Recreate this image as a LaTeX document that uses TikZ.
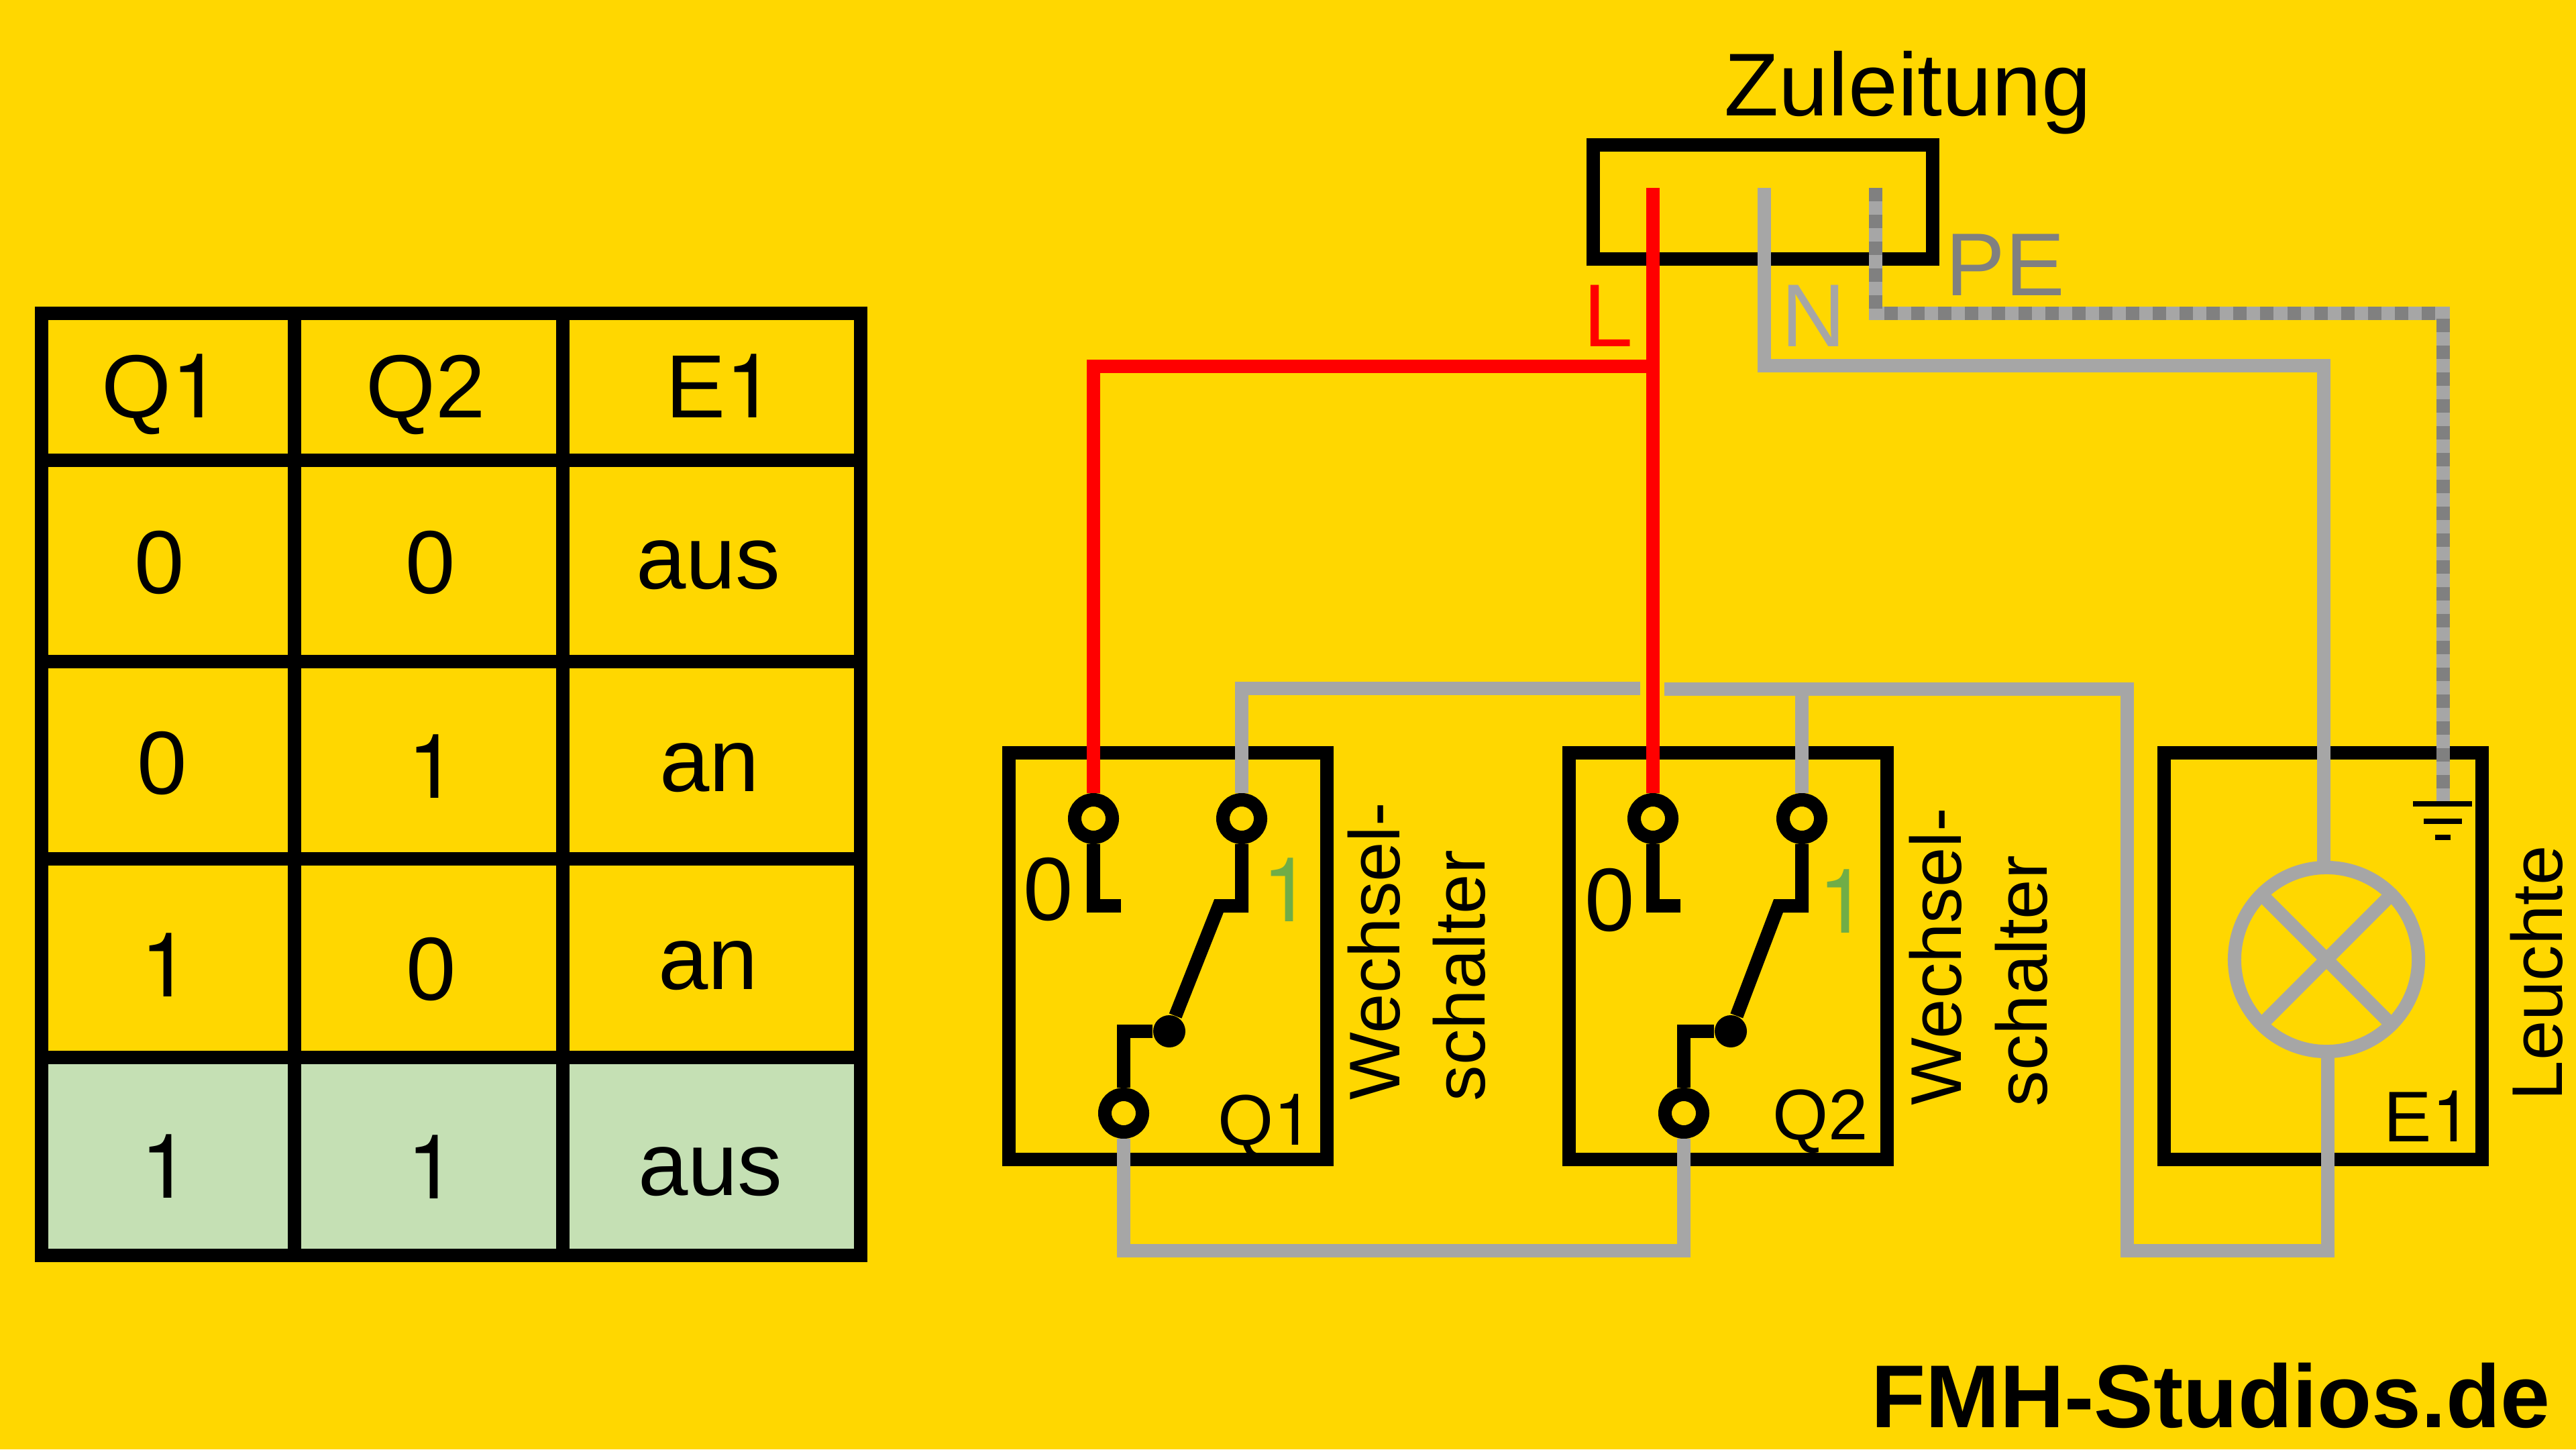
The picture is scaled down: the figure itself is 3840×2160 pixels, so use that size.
\documentclass[tikz,border=0pt]{standalone}
\usepackage{fontspec}
\setmainfont{Liberation Sans}
\newfontfamily\myone{TeX Gyre Heros} % digit 1 without foot
\definecolor{mybg}{HTML}{FFD700}
\definecolor{mygrey}{HTML}{A6A6A6}
\definecolor{mydark}{HTML}{808080}
\definecolor{mygreen}{HTML}{70AD47}
\definecolor{myrow}{HTML}{C5E0B4}
\begin{document}
\begin{tikzpicture}[x=0.01cm,y=-0.01cm,line cap=butt,line join=miter] % 1 unit = 1 px, y runs down
\tikzstyle{mybox} = [draw, line width=.2cm, rectangle, inner sep=0pt, minimum width=4.74cm, minimum height=6.05cm] % device frame
\tikzstyle{myterm} = [draw, circle, line width=.2cm, minimum size=.56cm, inner sep=0pt] % terminal
\tikzstyle{myjoint} = [fill, circle, minimum size=.48cm, inner sep=0pt] % switch pivot
\tikzstyle{myline} = [line width=.2cm] % black grid and contacts
\tikzstyle{myred} = [line width=.2cm, draw=red]
\tikzstyle{mywire} = [line width=.2cm, draw=mygrey]
\tikzstyle{mype} = [line width=.2cm, draw=mygrey, postaction={draw=mydark, dash pattern=on .2cm off .2cm}]
\tikzstyle{myearth} = [line width=.08cm]
\tikzstyle{mybig} = [inner sep=0pt, anchor=base, font=\fontsize{38}{38}\selectfont] % table and contact digits
\tikzstyle{mylab} = [inner sep=0pt, anchor=base west, font=\fontsize{30.4}{30.4}\selectfont] % device labels
\tikzstyle{myhead} = [inner sep=0pt, anchor=base west, font=\fontsize{37.8}{37.8}\selectfont] % supply labels

\fill[mybg] (0,0) rectangle (3840,2160);

% table
\fill[myrow] (62,1576) rectangle (1283,1871);
\draw[myline] (62,467) rectangle (1283,1871);
\foreach \y in {686,986,1280,1576} \draw[myline] (62,\y) -- (1283,\y);
\foreach \x in {439,839} \draw[myline] (\x,467) -- (\x,1871);
\node[mybig] (hQa) at (241,622) {Q{\myone 1}};
\node[mybig] (hQb) at (635,622) {Q2};
\node[mybig] (hE) at (1074,622) {E{\myone 1}};
\node[mybig] (ra) at (238,884) {0};
\node[mybig] (rb) at (642,884) {0};
\node[mybig] (rc) at (1056,877) {aus};
\node[mybig] (sa) at (242,1183) {0};
\node[mybig] (sb) at (645,1189) {\myone 1};
\node[mybig] (sc) at (1058,1179) {an};
\node[mybig] (ta) at (247,1485) {\myone 1};
\node[mybig] (tb) at (643,1490) {0};
\node[mybig] (tc) at (1056,1474) {an};
\node[mybig] (ua) at (247,1785) {\myone 1};
\node[mybig] (ub) at (644,1786) {\myone 1};
\node[mybig] (uc) at (1059,1781) {aus};

% frames
\node[mybox, minimum width=5.05cm, minimum height=1.7cm] (feed) at (2628,301) {};
\node[mybox] (boxQa) at (1741,1425) {};
\node[mybox] (boxQb) at (2576,1425) {};
\node[mybox] (boxE) at (3463,1425) {};

% terminals
\node[myterm] (Qa0) at (1630,1220) {};
\node[myterm] (Qa1) at (1851,1220) {};
\node[myterm] (Qam) at (1675,1659) {};
\node[myterm] (Qb0) at (2464,1220) {};
\node[myterm] (Qb1) at (2686,1220) {};
\node[myterm] (Qbm) at (2510,1659) {};
\node[myjoint] (jQa) at (1743,1537) {};
\node[myjoint] (jQb) at (2580,1537) {};
\node[draw=mygrey, circle, line width=.2cm, minimum size=2.74cm, inner sep=0pt, outer sep=0pt] (lamp) at (3468,1430) {};

\coordinate (Lin) at (2464,280);
\coordinate (Lbend) at (2464,546);
\coordinate (Nin) at (2630,280);
\coordinate (Nbend) at (3464,545);
\coordinate (PEin) at (2796,280);
\coordinate (PEbend) at (3642,467);
\coordinate (earth) at (3642,1194);
\coordinate (gapL) at (2445,1026);
\coordinate (gapR) at (2481,1027);
\coordinate (tap) at (2686,1027);
\coordinate (backT) at (3171,1027);
\coordinate (backB) at (3171,1864);
\coordinate (lampB) at (3470,1864);
\coordinate (Qbbot) at (2510,1864);
\coordinate (footQa) at (1671,1350);
\coordinate (kneeQa) at (1817,1350);
\coordinate (footQb) at (2505,1350);
\coordinate (kneeQb) at (2651,1350);

% contacts
\draw[myline] (Qa0.south) |- (footQa);
\draw[myline] (Qa1.south) |- (kneeQa) -- (jQa);
\draw[myline] (jQa) -| (Qam.north);
\draw[myline] (Qb0.south) |- (footQb);
\draw[myline] (Qb1.south) |- (kneeQb) -- (jQb);
\draw[myline] (jQb) -| (Qbm.north);

% wires
\draw[myred] (Lin) -- (Qb0.north);
\draw[myred] (Lbend) -| (Qa0.north);
\draw[mywire] (Nin) |- (Nbend) -- (Nbend |- lamp.north);
\draw[mywire] (lamp.45) -- (lamp.225);
\draw[mywire] (lamp.135) -- (lamp.315);
\draw[mywire] (lampB |- lamp.south) -- (lampB) -- (backB) -- (backT) -- (gapR);
\draw[mywire] (gapL) -| (Qa1.north);
\draw[mywire] (tap) -- (Qb1.north);
\draw[mywire] (Qam.south) |- (Qbbot) -- (Qbm.south);
\draw[mype] (PEin) |- (PEbend) -- (earth);

% earth symbol
\draw[myearth] (3597,1198) -- (3685,1198);
\draw[myearth] (3613,1224) -- (3670,1224);
\draw[myearth] (3630,1248) -- (3653,1248);

% labels
\node[myhead] (zu) at (2570,172) {Zuleitung};
\node[myhead, text=mydark] (pe) at (2900,440) {PE};
\node[myhead, text=red] (ll) at (2360,516) {L};
\node[myhead, text=mygrey] (nn) at (2655,516) {N};
\node[mybig] (cQa0) at (1563,1371) {0};
\node[mybig, text=mygreen] (cQa1) at (1919,1373) {\myone 1};
\node[mybig] (cQb0) at (2400,1387) {0};
\node[mybig, text=mygreen] (cQb1) at (2748,1390) {\myone 1};
\node[mylab] (nQa) at (1815,1706) {Q{\myone 1}};
\node[mylab] (nQb) at (2642,1698) {Q2};
\node[mylab] (nE) at (3553,1701) {E{\myone 1}};
\node[mylab, rotate=90] (wa) at (2086,1640) {Wechsel-};
\node[mylab, rotate=90] (wb) at (2213,1642) {schalter};
\node[mylab, rotate=90] (xa) at (2923,1648) {Wechsel-};
\node[mylab, rotate=90] (xb) at (3051,1650) {schalter};
\node[mylab, rotate=90] (le) at (3819,1641) {Leuchte};
\node[myhead, font=\fontsize{37.8}{37.8}\selectfont\bfseries] (fmh) at (2789,2127) {FMH-Studios.de};
\end{tikzpicture}
\end{document}
